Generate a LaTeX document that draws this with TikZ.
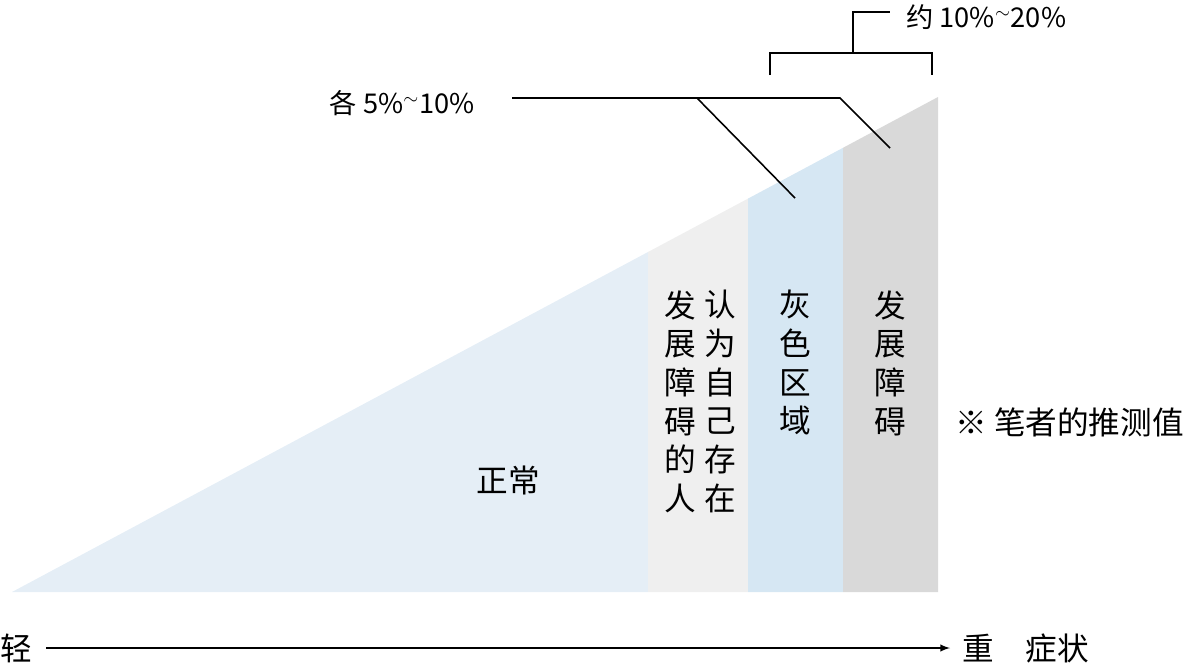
\documentclass[tikz,border=0pt]{standalone}
\usepackage{fontspec}
\setmainfont{Noto Sans CJK SC}
\usetikzlibrary{positioning}

\definecolor{normalblue}{HTML}{E5EEF6}
\definecolor{selfgray}{HTML}{EFEFEF}
\definecolor{zoneblue}{HTML}{D6E7F3}
\definecolor{disgray}{HTML}{D9D9D9}

\begin{document}
\begin{tikzpicture}[
                x=0.02cm, y=-0.02cm,
                every node/.append style={inner sep=0pt},
                big/.style={font=\fontsize{18}{22}\selectfont, align=center},
                small/.style={font=\fontsize{15.5}{17}\selectfont},
                leader/.style={line width=0.9pt}
            ]
                \useasboundingbox (0,0) rectangle (1198,664);
                % triangle split into bands
                \fill[normalblue] (12,592) -- (648,592) -- (648,252) -- cycle;
                \fill[selfgray] (648,592) -- (748,592) -- (748,198.6) -- (648,252) -- cycle;
                \fill[zoneblue] (748,592) -- (843,592) -- (843,147.8) -- (748,198.6) -- cycle;
                \fill[disgray] (843,592) -- (938,592) -- (938,97) -- (843,147.8) -- cycle;
                % band labels
                \node[big] (normal) at (508,480) {正常};
                \node[big, anchor=north] (people) at (680,290) {发\\展\\障\\碍\\的\\人};
                \node[big, anchor=north] (think) at (720,290) {认\\为\\自\\己\\存\\在};
                \node[big, anchor=north] (grayzone) at (795,290) {灰\\色\\区\\域};
                \node[big, anchor=north] (disorder) at (890,290) {发\\展\\障\\碍};
                \node[big, anchor=west] (note) at (955,422) {※ 笔者的推测值};
                % leaders for each share
                \node[small, anchor=east] (each) at (475,103) {各 5\%$^{\sim}$10\%};
                \coordinate (eachL) at (512,98);
                \coordinate (eachM) at (697,98);
                \coordinate (eachR) at (840,98);
                \coordinate (zoneTip) at (795,198);
                \coordinate (disTip) at (890,148);
                \draw[leader] (eachL) -- (eachR) -- (disTip);
                \draw[leader] (eachM) -- (zoneTip);
                % bracket for the sum
                \coordinate (brL) at (770,75);
                \coordinate (brR) at (932,75);
                \coordinate (brM) at (853,53);
                \coordinate (brEnd) at (890,12);
                \draw[leader] (brL) |- (brM) -| (brR);
                \draw[leader] (brM) |- (brEnd);
                \node[small, anchor=west] (sum) at (906,17) {约 10\%$^{\sim}$20\%};
                % symptom axis
                \node[big] (light) at (16,648) {轻};
                \node[big, anchor=west] (heavy) at (962,648) {重\quad 症状};
                \draw[-latex, line width=0.9pt] (light) ++(30,0) coordinate (axisL) -- (heavy.west -| 950,0);
            \end{tikzpicture}
\end{document}
